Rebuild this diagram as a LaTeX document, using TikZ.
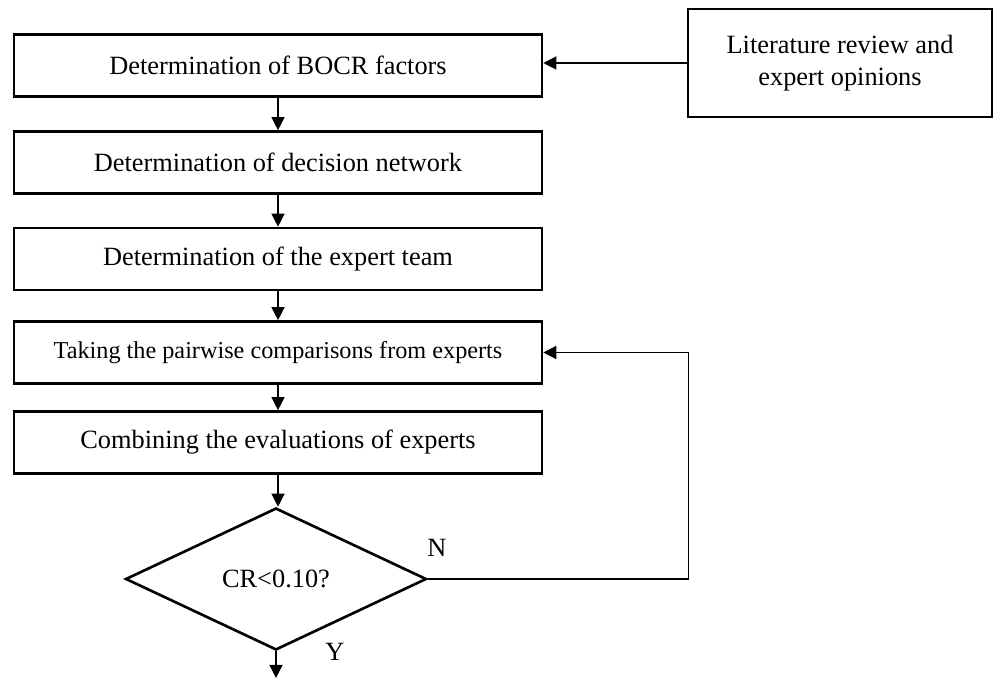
\documentclass[tikz,border=0pt]{standalone}
\usepackage{fontspec}
\setmainfont{Liberation Serif}
\usepackage{tikz}
\usetikzlibrary{shapes.geometric, arrows.meta, positioning, calc}

\tikzset{
    procbox/.style={draw=black, line width=1.5pt, rectangle, minimum width=10.56cm,
        minimum height=1.24cm, inner sep=2pt, align=center},
    decision/.style={draw=black, line width=1.5pt, diamond, aspect=2.1, inner sep=0pt,
        minimum width=6.02cm, minimum height=2.84cm},
    flow/.style={-{Triangle[length=7.5pt, width=7.5pt]}, line width=0.7pt, black},
}

\begin{document}
\begin{tikzpicture}[x=0.02cm, y=-0.02cm, font=\fontsize{15}{18}\selectfont]
    \useasboundingbox (0,0) rectangle (993,678);

    % main chain of steps
    \node[procbox] (factors) at (278, 65.5) {Determination of BOCR factors};
    \node[procbox] (network) at (278, 162.5) {Determination of decision network};
    \node[procbox] (team) at (278, 259) {Determination of the expert team};
    \node[procbox, font=\fontsize{13.8}{16}\selectfont] (pairwise) at (278, 352.5) {Taking the pairwise comparisons from experts};
    \node[procbox] (combine) at (278, 442.5) {Combining the evaluations of experts};

    % consistency check
    \node[decision] (check) at (276, 579) {CR<0.10?};
    \node (no) at (437, 548) {N};
    \node (yes) at (335, 652) {Y};
    \coordinate (out) at (276, 678);

    % input source
    \node[draw=black, line width=1.5pt, minimum width=6.08cm, minimum height=2.16cm,
        align=center] (lit) at (840, 63) {Literature review and\\expert opinions};

    \draw[flow] (lit.west) -- (factors.east |- lit.west);
    \draw[flow] (factors) -- (network);
    \draw[flow] (network) -- (team);
    \draw[flow] (team) -- (pairwise);
    \draw[flow] (pairwise) -- (combine);
    \draw[flow] (combine.south) -- (combine.south |- check.north);
    \draw[flow] (check.east) -- ++(261,0) |- (pairwise.east);
    \draw[flow] (check.south) -- (out);

\end{tikzpicture}
\end{document}
